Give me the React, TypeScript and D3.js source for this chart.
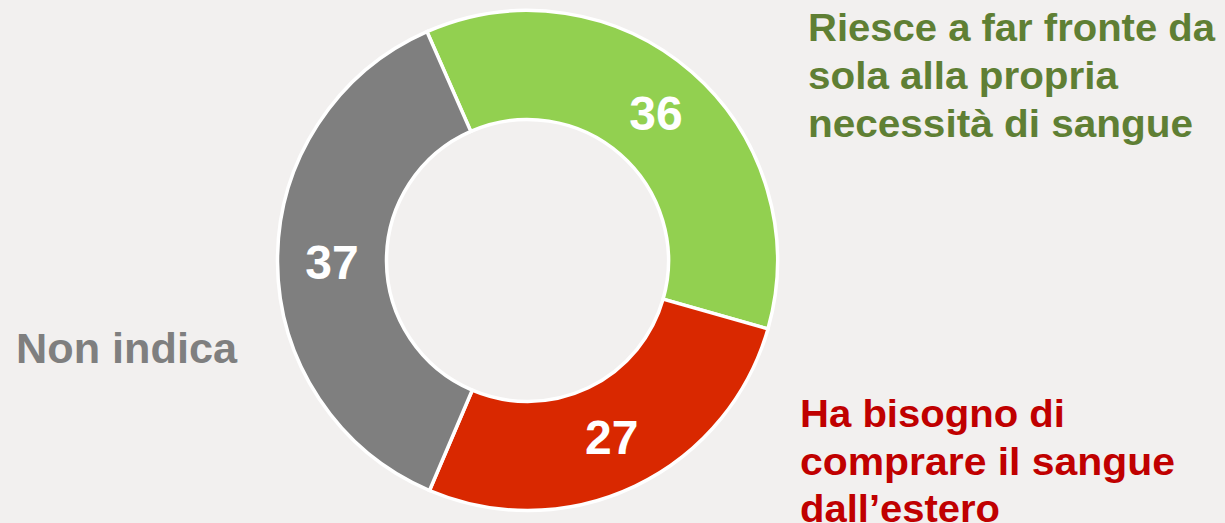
import React from "react";
import * as d3 from "d3";

const categories = ["Riesce a far fronte da sola alla propria necessità di sangue", "Ha bisogno di comprare il sangue dall'estero", "Non indica"];
const values = [36, 27, 37];
const sliceColors = ["#92D050", "#D92800", "#7F7F7F"];
const textColors = ["#5F7F34", "#C00000", "#7F7F7F"];
const labelLines = [
  ["Riesce a far fronte da", "sola alla propria", "necessità di sangue"],
  ["Ha bisogno di", "comprare il sangue", "dall\u2019estero"],
  ["Non indica"],
];
const labelWidths = [
  [407, 310, 385],
  [265, 375, 200],
  [221],
];

const W = 1225;
const H = 523;
const cx = 527.5;
const cy = 260.5;
const outerR = 250;
const innerR = 141;
const startAngle = -0.414;

export default function App() {
  const pie = d3
    .pie<number>()
    .sort(null)
    .value((d) => d)
    .startAngle(startAngle)
    .endAngle(startAngle + 2 * Math.PI);
  const arcs = pie(values);
  const arc = d3.arc<d3.PieArcDatum<number>>().innerRadius(innerR).outerRadius(outerR);

  const labelPos = [
    { x: 808, y: 41, dy: 48 },
    { x: 800, y: 427, dy: 47.5 },
    { x: 16, y: 363, dy: 0 },
  ];
  const labelSizes = [39, 39, 42];

  return (
    <svg
      width={W}
      height={H}
      style={{ position: "absolute", left: 0, top: 0, display: "block" }}
      fontFamily="'Liberation Sans', Arial, sans-serif"
      fontWeight="bold"
    >
      <rect x={0} y={0} width={W} height={H} fill="#F2F0EF" />
      <g transform={`translate(${cx},${cy})`}>
        {arcs.map((a, i) => (
          <path key={i} d={arc(a) || ""} fill={sliceColors[i]} stroke="#FFFFFF" strokeWidth={3.5} />
        ))}
        {arcs.map((a, i) => {
          const [x, y] = arc.centroid(a);
          return (
            <text
              key={"v" + i}
              x={x}
              y={y}
              dy="0.36em"
              textAnchor="middle"
              fill="#FFFFFF"
              fontSize={48}
            >
              {values[i]}
            </text>
          );
        })}
      </g>
      {labelLines.map((lines, i) => (
        <g key={"l" + i} fill={textColors[i]} fontSize={labelSizes[i]}>
          {lines.map((ln, j) => (
            <text
              key={j}
              x={labelPos[i].x}
              y={labelPos[i].y + j * labelPos[i].dy}
              textLength={labelWidths[i][j]}
              lengthAdjust="spacingAndGlyphs"
            >
              {ln}
            </text>
          ))}
        </g>
      ))}
    </svg>
  );
}
